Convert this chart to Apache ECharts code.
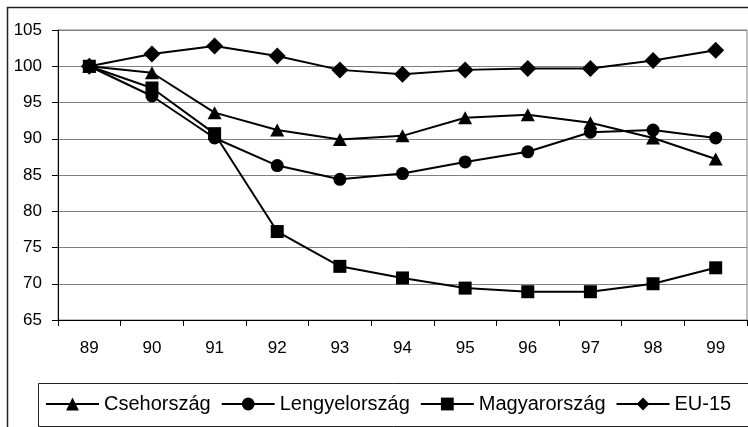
<!DOCTYPE html>
<html><head><meta charset="utf-8">
<script src="https://cdn.jsdelivr.net/npm/echarts@6/dist/echarts.min.js"></script>
<style>html,body{margin:0;padding:0;background:#fff}#c{width:748px;height:427px}</style>
</head><body><div id="c"></div>
<script>
var years = ['89','90','91','92','93','94','95','96','97','98','99'];
var seriesNames = ['Csehország','Lengyelország','Magyarország','EU-15'];
var cseh = [100, 99.1, 93.6, 91.2, 89.9, 90.4, 92.9, 93.3, 92.2, 90.1, 87.2];
var lengyel = [100, 95.9, 90.1, 86.3, 84.4, 85.2, 86.8, 88.2, 90.9, 91.2, 90.1];
var magyar = [100, 97.0, 90.7, 77.2, 72.4, 70.8, 69.4, 68.9, 68.9, 70.0, 72.2];
var eu = [100, 101.7, 102.8, 101.4, 99.5, 98.9, 99.5, 99.7, 99.7, 100.8, 102.2];
var yTicks = {min: 65, max: 105, step: 5};

var chart = echarts.init(document.getElementById('c'), null, {renderer: 'canvas'});
var font = 'Liberation Sans, Arial, sans-serif';
function mk(name, data, sym, size) {
  return {
    name: name, type: 'line', data: data, symbol: sym, symbolSize: size,
    showAllSymbol: true, animation: false,
    lineStyle: {color: '#000', width: 2},
    itemStyle: {color: '#000', borderColor: '#000', borderWidth: 0}
  };
}
chart.setOption({
  animation: false,
  graphic: [{
    type: 'rect', shape: {x: 7.5, y: 7.5, width: 800, height: 500},
    style: {fill: 'none', stroke: '#222', lineWidth: 1.5}, z: 0
  }, {
    type: 'rect', shape: {x: 38.5, y: 383.5, width: 760, height: 43},
    style: {fill: 'none', stroke: '#222', lineWidth: 1}, z: 0
  }],
  grid: {left: 58, right: 1, top: 30, bottom: 107, show: true, borderColor: '#808080', borderWidth: 1, backgroundColor: 'transparent'},
  legend: {
    left: 45, top: 394, padding: 0, itemWidth: 53, itemHeight: 16, itemGap: 10,
    textStyle: {fontFamily: font, fontSize: 20, color: '#000'},
    data: seriesNames
  },
  xAxis: {
    type: 'category', data: years, boundaryGap: true,
    axisLine: {lineStyle: {color: '#000', width: 1}},
    axisTick: {show: true, length: 6, lineStyle: {color: '#000'}, interval: 0},
    axisLabel: {fontFamily: font, fontSize: 17, color: '#000', margin: 20, interval: 0},
    splitLine: {show: false}
  },
  yAxis: {
    type: 'value', min: yTicks.min, max: yTicks.max, interval: yTicks.step,
    axisLine: {show: true, lineStyle: {color: '#000', width: 1}},
    axisTick: {show: true, length: 6, lineStyle: {color: '#000'}},
    axisLabel: {fontFamily: font, fontSize: 17, color: '#000', margin: 16},
    splitLine: {show: true, lineStyle: {color: '#808080', width: 1}}
  },
  series: [
    mk(seriesNames[0], cseh, 'triangle', [14, 13]),
    mk(seriesNames[1], lengyel, 'circle', 13),
    mk(seriesNames[2], magyar, 'rect', 13),
    mk(seriesNames[3], eu, 'diamond', [17, 17])
  ]
});
</script></body></html>
